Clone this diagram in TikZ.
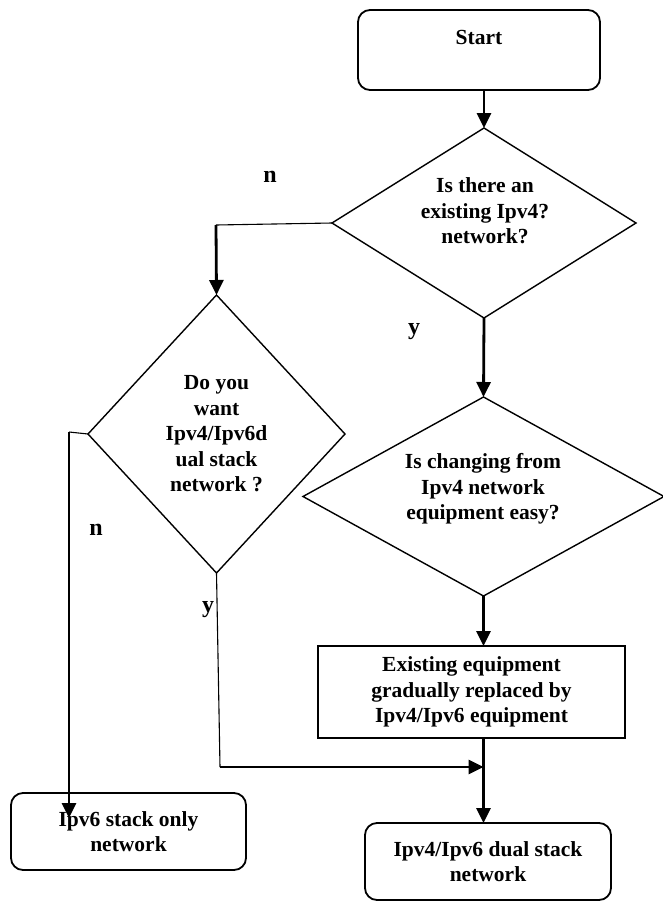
\documentclass[tikz,border=0pt]{standalone}
\usepackage{fontspec}
\setmainfont{Liberation Serif}
\usetikzlibrary{shapes.geometric,arrows.meta}
\begin{document}
\begin{tikzpicture}[x=1pt,y=-1pt,
  txt/.style={font=\bfseries\fontsize{21.5}{25.5}\selectfont, align=center, inner sep=0pt},
  termbox/.style={draw, line width=1.8pt, rounded corners=12pt, inner sep=0pt, outer sep=0pt, txt},
  procbox/.style={draw, line width=1.8pt, inner sep=0pt, outer sep=0pt, txt},
  decision/.style={draw, diamond, line width=1.4pt, inner sep=0pt, outer sep=0pt, txt},
  flow/.style={line width=2.8pt, -{Triangle[length=15pt,width=14pt]}},
  thinflow/.style={line width=1.1pt},
  branch/.style={font=\bfseries\fontsize{24}{28}\selectfont, inner sep=0pt}
]
\useasboundingbox (0,0) rectangle (663,902);

% terminals and process
\node[termbox, minimum width=242pt, minimum height=80pt] (start) at (479,50) {};
\node[txt] (startT) at (479,37) {Start};
\node[procbox, minimum width=307pt, minimum height=92pt] (repl) at (471.5,692)
  {Existing equipment\\gradually replaced by\\Ipv4/Ipv6 equipment};
\node[termbox, minimum width=235pt, minimum height=77pt] (v6only) at (128.5,831.5)
  {Ipv6 stack only\\network};
\node[termbox, minimum width=246pt, minimum height=77pt] (dual) at (488,861.5)
  {Ipv4/Ipv6 dual stack\\network};

% decisions
\node[decision, minimum width=304pt, minimum height=190pt] (d1) at (484,223) {};
\node[txt] (d1T) at (485,211) {Is there an\\existing Ipv4?\\network?};
\node[decision, minimum width=257pt, minimum height=278pt] (d2) at (216.5,434)
  {Do you\\want\\Ipv4/Ipv6d\\ual stack\\network ?};
\node[decision, minimum width=361pt, minimum height=199pt] (d3) at (483.5,496.5) {};
\node[txt] (d3T) at (483,489) {Is changing from\\Ipv4 network\\equipment easy?};

% corner points of the bent connectors
\coordinate (c1) at (216,225);
\coordinate (c2) at (69,432);
\coordinate (c2end) at (69,818);
\coordinate (c3) at (220,767);
\coordinate (c3end) at (483.5,767);

% connectors
\draw[flow] (start.south -| d1.north) -- (d1.north);
\draw[thinflow] (d1.west) -- (c1);
\draw[flow] (c1) -- (d2.north);
\draw[flow] (d1.south) -- (d3.north);
\draw[flow] (d3.south) -- (repl.north -| d3.south);
\draw[flow] (repl.south -| d3.south) -- (d3.south |- dual.north);
\draw[thinflow] (d2.west) -- (c2);
\draw[flow] (c2) -- (c2end);
\draw[thinflow] (d2.south) -- (c3);
\draw[flow] (c3) -- (c3end);

% branch labels
\node[branch] (n1) at (270,177) {n};
\node[branch] (y1) at (414,332) {y};
\node[branch] (n2) at (96,530) {n};
\node[branch] (y2) at (208,610) {y};
\end{tikzpicture}
\end{document}
